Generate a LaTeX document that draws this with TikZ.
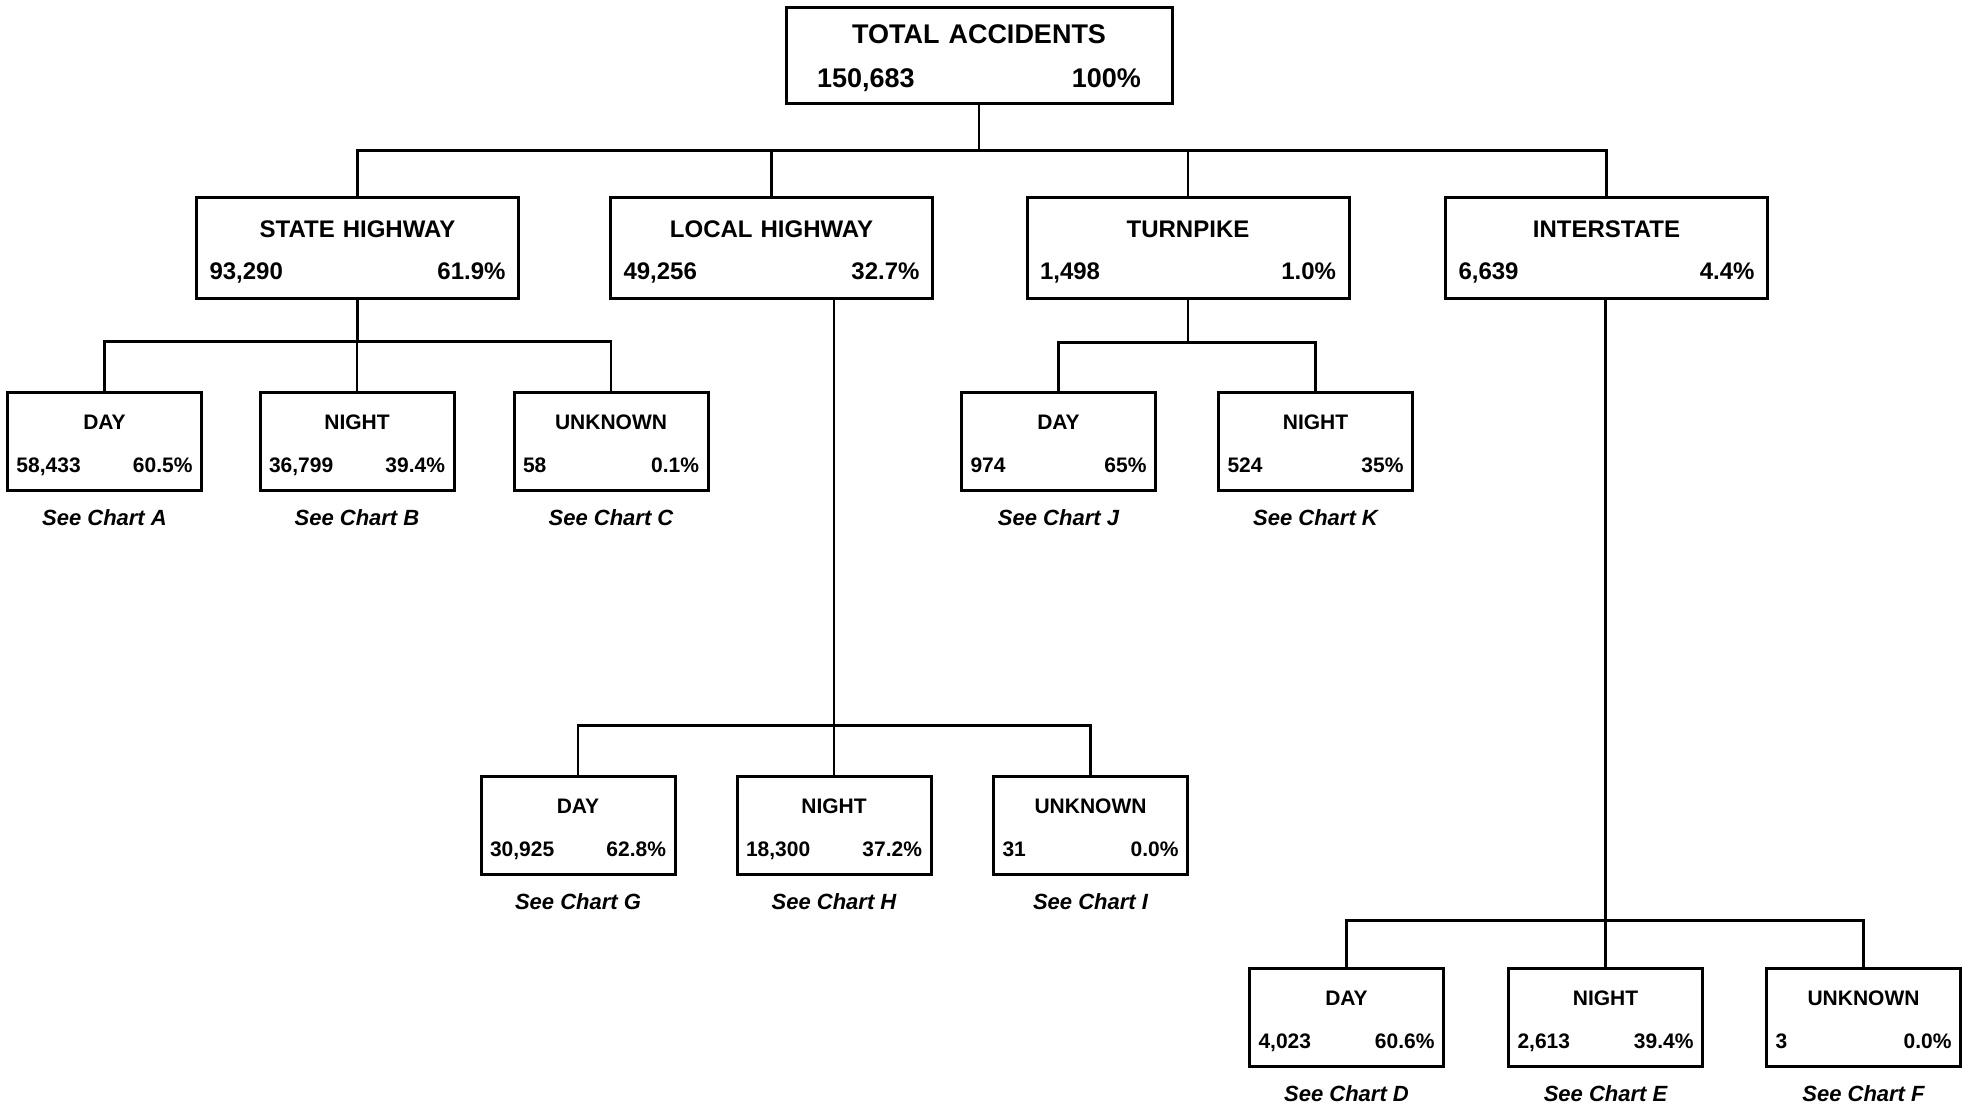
\documentclass[tikz,border=0pt]{standalone}
\usepackage{fontspec}
\setmainfont{Liberation Sans}
\usetikzlibrary{positioning, calc}

% count on the left, share on the right
\newcommand{\countline}[2]{\makebox[\linewidth]{#1\hfill#2}}

\begin{document}
\begin{tikzpicture}[
    x=0.5pt, y=-0.5pt,
    total/.style={rectangle, draw, line width=1.5pt, minimum width=193pt, text width=162pt, inner xsep=15.5pt, inner ysep=0pt, text height=17.9pt, text depth=30.1pt, align=center, font=\fontsize{13.5}{22}\selectfont\bfseries},
    road/.style={rectangle, draw, line width=1.5pt, minimum width=161pt, text width=148pt, inner xsep=6.5pt, inner ysep=0pt, text height=19.8pt, text depth=30.2pt, align=center, font=\fontsize{12}{21}\selectfont\bfseries},
    leaf/.style={rectangle, draw, line width=1.5pt, minimum width=97pt, text width=88pt, inner xsep=4.5pt, inner ysep=0pt, text height=18.75pt, text depth=30.25pt, align=center, font=\fontsize{10.5}{21.5}\selectfont\bfseries},
    chart/.style={inner sep=0pt, font=\fontsize{11}{13}\selectfont\bfseries\itshape},
    link/.style={line width=1.4pt},
    node distance=9pt
]
\useasboundingbox (0,0) rectangle (1969,1107);

% ==================== Total ====================
\node[total] (total) at (979,56) {TOTAL ACCIDENTS\\\countline{150,683}{100\%}};

% ==================== Road types ====================
\node[road] (state) at (357.5,248) {STATE HIGHWAY\\\countline{93,290}{61.9\%}};
\node[road] (local) at (771.5,248) {LOCAL HIGHWAY\\\countline{49,256}{32.7\%}};
\node[road] (turnpike) at (1188,248) {TURNPIKE\\\countline{1,498}{1.0\%}};
\node[road] (inter) at (1606.5,248) {INTERSTATE\\\countline{6,639}{4.4\%}};

\draw[link] (state.north) -- ++(0,-46) coordinate (busroad) -| (inter.north);
\draw[link] (total.south) -- (total.south |- busroad);
\draw[link] (local.north) -- (local.north |- busroad);
\draw[link] (turnpike.north) -- (turnpike.north |- busroad);

% ==================== State highway ====================
\node[leaf] (sday) at (104.5,441) {DAY\\\countline{58,433}{60.5\%}};
\node[leaf] (snight) at (357,441) {NIGHT\\\countline{36,799}{39.4\%}};
\node[leaf] (sunk) at (611,441) {UNKNOWN\\\countline{58}{0.1\%}};

\node[chart, below=of sday] (chartA) {See Chart A};
\node[chart, below=of snight] (chartB) {See Chart B};
\node[chart, below=of sunk] (chartC) {See Chart C};

\draw[link] (sday.north) -- ++(0,-49) coordinate (busstate) -| (sunk.north);
\draw[link] (state.south) -- (state.south |- busstate);
\draw[link] (snight.north) -- (snight.north |- busstate);

% ==================== Local highway ====================
\node[leaf] (lday) at (578,825) {DAY\\\countline{30,925}{62.8\%}};
\node[leaf] (lnight) at (834,825) {NIGHT\\\countline{18,300}{37.2\%}};
\node[leaf] (lunk) at (1090.5,825) {UNKNOWN\\\countline{31}{0.0\%}};

\node[chart, below=of lday] (chartG) {See Chart G};
\node[chart, below=of lnight] (chartH) {See Chart H};
\node[chart, below=of lunk] (chartI) {See Chart I};

\draw[link] (lday.north) -- ++(0,-49) coordinate (buslocal) -| (lunk.north);
\draw[link] (lnight.north) -- (lnight.north |- local.south);

% ==================== Turnpike ====================
\node[leaf] (tday) at (1058.5,441) {DAY\\\countline{974}{65\%}};
\node[leaf] (tnight) at (1315.5,441) {NIGHT\\\countline{524}{35\%}};

\node[chart, below=of tday] (chartJ) {See Chart J};
\node[chart, below=of tnight] (chartK) {See Chart K};

\draw[link] (tday.north) -- ++(0,-48) coordinate (busturn) -| (tnight.north);
\draw[link] (turnpike.south) -- (turnpike.south |- busturn);

% ==================== Interstate ====================
\node[leaf] (iday) at (1346.5,1017) {DAY\\\countline{4,023}{60.6\%}};
\node[leaf] (inight) at (1605.5,1017) {NIGHT\\\countline{2,613}{39.4\%}};
\node[leaf] (iunk) at (1863.5,1017) {UNKNOWN\\\countline{3}{0.0\%}};

\node[chart, below=of iday] (chartD) {See Chart D};
\node[chart, below=of inight] (chartE) {See Chart E};
\node[chart, below=of iunk] (chartF) {See Chart F};

\draw[link] (iday.north) -- ++(0,-46) coordinate (businter) -| (iunk.north);
\draw[link] (inight.north) -- (inight.north |- inter.south);

\end{tikzpicture}
\end{document}
